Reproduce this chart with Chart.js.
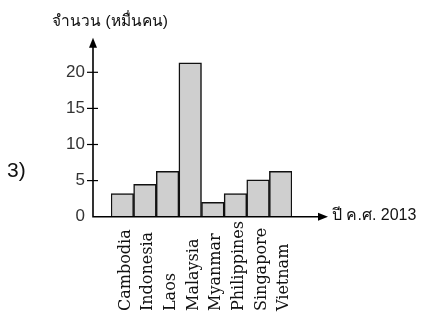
<!DOCTYPE html>
<html lang="th">
<head>
  <meta charset="UTF-8" />
  <title>Bar chart</title>
  <script src="https://cdn.jsdelivr.net/npm/chart.js"></script>
  <style>
    * { margin: 0; padding: 0; }
    body { background: #fff; width: 436px; height: 313px; overflow: hidden; }
    canvas { display: block; }
  </style>
</head>
<body>
  <canvas id="chart" width="436" height="313"></canvas>

  <script>
    // data (หมื่นคน)
    const countries = ['Cambodia', 'Indonesia', 'Laos', 'Malaysia', 'Myanmar', 'Philippines', 'Singapore', 'Vietnam'];
    const visitors = [3.2, 4.5, 6.3, 21.3, 2.0, 3.2, 5.1, 6.3];
    const yTicks = [0, 5, 10, 15, 20];

    const yTitle = 'จำนวน (หมื่นคน)';
    const xTitle = 'ปี ค.ศ. 2013';
    const itemNo = '3)';

    const sans = '"Liberation Sans", "DejaVu Sans", sans-serif';
    const serif = '"DejaVu Serif", serif';

    const axesPlugin = {
      id: 'handAxes',
      afterDatasetsDraw(chart) {
        const { ctx, chartArea, scales } = chart;
        const x = scales.x, y = scales.y;
        const ax = chartArea.left - 18;
        const y0 = y.getPixelForValue(0);
        const yTop = chartArea.top + 1.5;
        const xEnd = 328;

        ctx.save();
        ctx.strokeStyle = '#000';
        ctx.fillStyle = '#000';
        ctx.lineWidth = 1.6;

        // axes
        ctx.beginPath();
        ctx.moveTo(ax, yTop + 6);
        ctx.lineTo(ax, y0);
        ctx.lineTo(xEnd - 6, y0);
        ctx.stroke();

        // arrow heads
        ctx.beginPath();
        ctx.moveTo(ax, yTop);
        ctx.lineTo(ax - 4, yTop + 10);
        ctx.lineTo(ax + 4, yTop + 10);
        ctx.closePath();
        ctx.fill();
        ctx.beginPath();
        ctx.moveTo(xEnd, y0);
        ctx.lineTo(xEnd - 10, y0 - 4);
        ctx.lineTo(xEnd - 10, y0 + 4);
        ctx.closePath();
        ctx.fill();

        // tick marks
        ctx.lineWidth = 1.2;
        yTicks.forEach(v => {
          if (v === 0) return;
          const py = y.getPixelForValue(v);
          ctx.beginPath();
          ctx.moveTo(ax - 6, py);
          ctx.lineTo(ax + 5, py);
          ctx.stroke();
        });

        // titles
        ctx.fillStyle = '#111';
        ctx.font = '15.5px ' + sans;
        ctx.textAlign = 'center';
        ctx.textBaseline = 'middle';
        ctx.fillText(yTitle, 110, 22);

        ctx.font = '16px ' + sans;
        ctx.textAlign = 'left';
        ctx.fillText(xTitle, xEnd + 4, y0 - 1);

        ctx.font = '21px ' + sans;
        ctx.fillText(itemNo, 7, 171);

        // category labels, rotated, starting from the bottom
        ctx.font = '16px ' + serif;
        ctx.textBaseline = 'alphabetic';
        countries.forEach((name, i) => {
          const px = x.getPixelForValue(i);
          ctx.save();
          ctx.translate(px + 7.5, 311);
          ctx.rotate(-Math.PI / 2);
          ctx.fillText(name, 0, 0);
          ctx.restore();
        });
        ctx.restore();
      }
    };

    new Chart(document.getElementById('chart'), {
      type: 'bar',
      data: {
        labels: countries,
        datasets: [{
          data: visitors,
          backgroundColor: '#cfcfcf',
          borderColor: '#111',
          borderWidth: 1.5,
          categoryPercentage: 1,
          barPercentage: 1
        }]
      },
      options: {
        responsive: false,
        devicePixelRatio: 1,
        animation: false,
        layout: { padding: { top: 35.5, right: 144, bottom: 0, left: 0 } },
        plugins: {
          legend: { display: false },
          tooltip: { enabled: false }
        },
        scales: {
          x: {
            offset: true,
            grid: { display: false, drawTicks: false },
            border: { display: false },
            ticks: { display: false },
            afterFit: s => { s.height = 96.3; }
          },
          y: {
            min: 0,
            max: 25,
            grid: { display: false, drawTicks: false },
            border: { display: false },
            afterBuildTicks: s => { s.ticks = yTicks.map(v => ({ value: v })); },
            ticks: {
              padding: 26,
              color: '#333',
              font: { size: 17, family: sans }
            },
            afterFit: s => { s.width = 111; }
          }
        }
      },
      plugins: [axesPlugin]
    });
  </script>
</body>
</html>
